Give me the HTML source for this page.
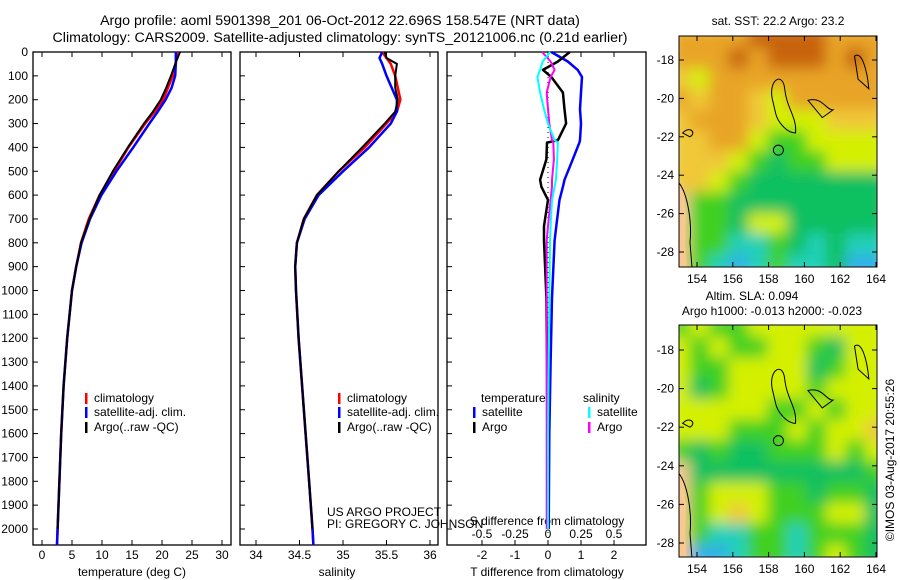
<!DOCTYPE html>
<html><head><meta charset="utf-8"><style>
html,body{margin:0;padding:0;background:#fff}
svg{display:block;font-family:"Liberation Sans",sans-serif}
text{font-size:12px;fill:#000}
.ttl{font-size:14.2px}
</style></head><body>
<svg id="c" width="900" height="580" viewBox="0 0 900 580" xmlns="http://www.w3.org/2000/svg">
<defs>
<filter id="bl" x="-5%" y="-5%" width="110%" height="110%"><feGaussianBlur stdDeviation="7"/></filter>
<clipPath id="m1c"><rect x="679" y="36" width="198" height="231"/></clipPath>
<clipPath id="m2c"><rect x="679" y="325" width="198" height="232"/></clipPath>
</defs>
<text class="ttl" x="340" y="25" text-anchor="middle">Argo profile: aoml 5901398_201 06-Oct-2012 22.696S 158.547E (NRT data)</text>
<text class="ttl" x="340" y="42" text-anchor="middle">Climatology: CARS2009. Satellite-adjusted climatology: synTS_20121006.nc (0.21d earlier)</text>
<g id="plots"></g>
<g id="maps"></g>
<text transform="translate(894,460) rotate(-90)" text-anchor="middle">©IMOS 03-Aug-2017 20:55:26</text>
</svg>
<script>
// ---- profile data ----
const depths = [0,25,50,100,150,200,250,300,400,500,600,700,800,900,1000,1200,1400,1600,1800,2000,2067];
const climT  = [22.5,22.4,22.3,21.8,21.0,20.2,18.8,17.2,14.4,12.0,9.6,7.8,6.5,5.7,5.0,4.2,3.6,3.2,2.9,2.6,2.5];
const satT   = [22.3,22.3,22.3,22.2,21.6,20.6,19.3,17.9,15.2,12.4,9.9,8.0,6.6,5.7,5.0,4.2,3.6,3.2,2.9,2.6,2.5];
const argoT  = [23.0,22.6,22.2,21.5,20.7,19.8,18.5,17.0,14.3,11.8,9.6,7.9,6.5,5.7,5.0,4.2,3.6,3.2,2.9,2.6,2.6];
const climS  = [35.45,35.50,35.55,35.60,35.63,35.66,35.62,35.50,35.25,34.95,34.70,34.55,34.47,34.45,34.46,34.49,34.53,34.57,34.61,34.65,34.66];
const satS   = [35.45,35.42,35.45,35.50,35.56,35.62,35.62,35.55,35.30,35.00,34.72,34.56,34.47,34.45,34.46,34.49,34.53,34.57,34.61,34.65,34.66];
const argoS  = [35.48,35.50,35.62,35.60,35.60,35.63,35.60,35.48,35.22,34.95,34.70,34.55,34.47,34.45,34.46,34.49,34.53,34.57,34.61,34.65,34.66];
const diffDepths = [0,40,75,105,170,240,300,370,380,450,536,565,620,730,790,1030,1300,1600,2000];
const satTd  = [0.1,0.6,0.9,1.03,1.0,0.97,1.0,0.97,0.95,0.75,0.5,0.45,0.35,0.25,0.2,0.12,0.08,0.04,0.02];
const argoTd = [0.66,0.3,-0.15,0.1,0.45,0.5,0.55,0.3,-0.03,-0.05,-0.24,-0.2,0.0,-0.12,-0.12,-0.05,-0.03,-0.02,-0.02];
const satSd  = [0.015,-0.04,-0.06,-0.08,-0.06,-0.03,0.0,0.05,0.075,0.07,0.06,0.05,0.03,0.02,0.015,0.01,0.005,0.0,0.0];
const argoSd = [-0.045,0.02,0.05,0.02,-0.01,0.0,0.01,0.03,0.04,0.045,0.03,0.03,0.02,0.0,-0.01,-0.01,-0.01,-0.01,-0.01];
const depthTicks = [0,100,200,300,400,500,600,700,800,900,1000,1100,1200,1300,1400,1500,1600,1700,1800,1900,2000];
const tTicks = [0,5,10,15,20,25,30];
const sTicks = [34,34.5,35,35.5,36];
const tdTicks = [-2,-1,0,1,2];
const sdTicks = [-0.5,-0.25,0,0.25,0.5];

const NS='http://www.w3.org/2000/svg';
const root=document.getElementById('plots');
function el(tag,attrs,parent){const e=document.createElementNS(NS,tag);for(const k in attrs)e.setAttribute(k,attrs[k]);(parent||root).appendChild(e);return e;}
const TOP=52,BOT=545;
const yD=d=>TOP+d*0.2385;

const panels=[
 {x0:33,x1:231,sx:v=>42+v*6.0,name:'temperature-panel'},
 {x0:240,x1:438,sx:v=>256+(v-34)*87,name:'salinity-panel'},
 {x0:447,x1:646,sx:v=>548+v*33,name:'difference-panel'}
];
panels.forEach(p=>{
 const r=el('rect',{x:p.x0,y:TOP,width:p.x1-p.x0,height:BOT-TOP,fill:'none',stroke:'#000','stroke-width':1.3});
 
 
});
depthTicks.forEach(d=>{
 const y=yD(d);
 panels.forEach(p=>{el('line',{x1:p.x0,x2:p.x0+5,y1:y,y2:y,stroke:'#000'});});
 const t=el('text',{x:28,y:y+4,'text-anchor':'end'});t.textContent=d;
 
 
});
function xticks(vals,sx,labels,yl,name){
 vals.forEach((v,i)=>{
  const x=sx(v);
  el('line',{x1:x,x2:x,y1:TOP,y2:TOP+5,stroke:'#000'});
  el('line',{x1:x,x2:x,y1:BOT,y2:BOT-5,stroke:'#000'});
  if(labels){const t=el('text',{x:x,y:yl,'text-anchor':'middle'});t.textContent=labels[i];
  
  }
 });
}
xticks(tTicks,panels[0].sx,tTicks,559,'temperature-tick-label');
xticks(sTicks,panels[1].sx,sTicks,559,'salinity-tick-label');
xticks(tdTicks,panels[2].sx,tdTicks,559,'t-diff-tick-label');
sdTicks.forEach(v=>{const t=el('text',{x:548+v*132,y:538,'text-anchor':'middle'});t.textContent=v;
 
 });
function lab(x,y,s,name,anchor){const t=el('text',{x:x,y:y,'text-anchor':anchor||'start'});t.textContent=s;
 
 return t;}
lab(132,576,'temperature (deg C)','temperature-axis-title','middle');
lab(337,576,'salinity','salinity-axis-title','middle');
lab(547,576,'T difference from climatology','t-diff-axis-title','middle');
lab(547,525,'S difference from climatology','s-diff-axis-title','middle');
lab(327,516,'US ARGO PROJECT','project-label');
lab(327,528,'PI: GREGORY C. JOHNSON','pi-label');

function line(xs,ds,sx,color,w,name){
 const pts=xs.map((v,i)=>sx(v).toFixed(1)+','+yD(ds[i]).toFixed(1)).join(' ');
 const l=el('polyline',{points:pts,fill:'none',stroke:color,'stroke-width':w,'stroke-linejoin':'round'});
 
 
}
const P=panels;
line(climT,depths,P[0].sx,'#f00',2.5,'climatology-temperature-line');
line(satT,depths,P[0].sx,'#00f',2.5,'satellite-temperature-line');
line(argoT.slice(0,20),depths.slice(0,20),P[0].sx,'#000',2,'argo-temperature-line');
line(climS,depths,P[1].sx,'#f00',2.5,'climatology-salinity-line');
line(satS,depths,P[1].sx,'#00f',2.5,'satellite-salinity-line');
line(argoS.slice(0,20),depths.slice(0,20),P[1].sx,'#000',2,'argo-salinity-line');
const sdx=v=>548+v*132;
el('line',{x1:548,x2:548,y1:TOP,y2:BOT,stroke:'#000','stroke-dasharray':'1,4'});
line(satTd,diffDepths,P[2].sx,'#00f',2.5,'satellite-t-diff-line');
line(argoTd,diffDepths,P[2].sx,'#000',2.5,'argo-t-diff-line');
line(argoSd,diffDepths,sdx,'#f0f',2,'argo-s-diff-line');
line(satSd,diffDepths,sdx,'#0ff',2,'satellite-s-diff-line');

function legend(x,y,color,text,name){
 const r=el('rect',{x:x,y:y-9,width:2.5,height:11,fill:color});
 
 
 lab(x+9,y,text,name);
}
[[85,'temperature'],[338,'salinity']].forEach(([x,n])=>{
 legend(x,402,'#f00','climatology',n+'-legend-climatology');
 legend(x,416,'#00f','satellite-adj. clim.',n+'-legend-satellite');
 legend(x,431,'#000','Argo(..raw -QC)',n+'-legend-argo');
});
lab(481,402,'temperature','diff-legend-temperature-header');
lab(583,402,'salinity','diff-legend-salinity-header');
legend(473,416,'#00f','satellite','diff-legend-t-satellite');
legend(473,431,'#000','Argo','diff-legend-t-argo');
legend(588,416,'#0ff','satellite','diff-legend-s-satellite');
legend(588,431,'#f0f','Argo','diff-legend-s-argo');

// ---- maps ----
const pal={O:'#c86410',o:'#e8a428',y:'#f0c838',Y:'#d4f000',g:'#40d020',G:'#10c060',c:'#20d0b8',b:'#30b0e8',s:'#f8c890'};
const sstGrid=["ooooOOOOooo","oooOoOOOoOo","yYooooooooo","oyooyYooooo","yoooyYYYyyy","yyooYggYYYY","yyyYgGggYYY","yyYgGGGGGGG","sggGGGGGGGG","sggGYYGGGGG","sggccgGcGcc","sgcbcgccGbb"];
const slaGrid=["gYggYYYYYYY","YgYggYYgGYY","YggYYYYGgYY","YGgYYYYgYYY","YYYYYggYgYY","YYYgggYgYYy","gGgGGgggYgY","sGGGGGGGGGg","sgYYYggGggG","sgYyYgggYYG","sgccggcgggG","sbbcggcgYgG"];
const mroot=document.getElementById('maps');
function drawMap(grid,x0,y0,h,clip,latY0,latY1,name){
 const g=el('g',{'clip-path':'url(#'+clip+')'},mroot);
 
 
 const inner=el('g',{filter:'url(#bl)'},g);
 const cw=198/11,ch=h/grid.length;
 grid.forEach((row,r)=>{row.split('').forEach((k,c)=>{
  el('rect',{x:x0-8+c*(cw+1.5)-1,y:y0-8+r*(ch+1.4)-1,width:cw+4,height:ch+4,fill:pal[k]||'#d4f000'},inner);});});
 const lx=v=>697+(v-154)*17.9, ly=v=>latY0-(v+18)*(latY1-latY0)/10;
 el('path',{d:`M679 ${ly(-24.4)} L683 ${ly(-24.6)} L686 ${ly(-26)} L685 ${ly(-27.5)} L687 ${ly(-29)} L679 ${ly(-29)} Z`,fill:'#f8c890'},g);
 const cs={fill:'none',stroke:'#000','stroke-width':1};
 el('path',Object.assign({d:`M679 ${ly(-24.4)} C688 ${ly(-25)} 692 ${ly(-26.5)} 690 ${ly(-27.5)} L692 ${ly(-28.8)}`},cs),g);
 el('path',Object.assign({d:`M${lx(158.2)} ${ly(-20)} C${lx(158)} ${ly(-19)} ${lx(158.8)} ${ly(-18.6)} ${lx(158.9)} ${ly(-19.5)} C${lx(159)} ${ly(-20.5)} ${lx(159.6)} ${ly(-21)} ${lx(159.5)} ${ly(-21.8)} C${lx(159)} ${ly(-21.8)} ${lx(158.5)} ${ly(-21.2)} ${lx(158.4)} ${ly(-20.8)} Z`},cs),g);
 el('path',Object.assign({d:`M${lx(160.2)} ${ly(-20.1)} C${lx(161)} ${ly(-19.9)} ${lx(161.2)} ${ly(-20.6)} ${lx(161.6)} ${ly(-20.6)} L${lx(161)} ${ly(-21)} Z`},cs),g);
 el('path',Object.assign({d:`M${lx(162.8)} ${ly(-17.8)} C${lx(163.2)} ${ly(-17.5)} ${lx(163.5)} ${ly(-18.5)} ${lx(163.6)} ${ly(-19.5)} L${lx(163)} ${ly(-19)} Z`},cs),g);
 el('path',Object.assign({d:`M${lx(153.2)} ${ly(-21.8)} C${lx(153.6)} ${ly(-21.4)} ${lx(154)} ${ly(-21.8)} ${lx(153.6)} ${ly(-22)} Z`},cs),g);
 const ci=el('circle',Object.assign({cx:lx(158.547),cy:ly(-22.696),r:5},cs),g);
 
 
 el('rect',{x:679,y:y0,width:198,height:h,fill:'none',stroke:'#000'},mroot);
 [154,156,158,160,162,164].forEach(v=>{
  const x=lx(v);el('line',{x1:x,x2:x,y1:y0,y2:y0+5,stroke:'#000'},mroot);el('line',{x1:x,x2:x,y1:y0+h,y2:y0+h-5,stroke:'#000'},mroot);
  const t=el('text',{x:x,y:y0+h+16,'text-anchor':'middle'},mroot);t.textContent=v;
  
  });
 [-18,-20,-22,-24,-26,-28].forEach(v=>{
  const y=ly(v);el('line',{x1:679,x2:684,y1:y,y2:y,stroke:'#000'},mroot);el('line',{x1:877,x2:872,y1:y,y2:y,stroke:'#000'},mroot);
  const t=el('text',{x:674,y:y+4,'text-anchor':'end'},mroot);t.textContent=v;
  
  });
}
drawMap(sstGrid,679,36,231,'m1c',60,252,'sst-map');
drawMap(slaGrid,679,325,232,'m2c',350,543,'sla-map');
function mt(x,y,s,n){const t=el('text',{x:x,y:y,'text-anchor':'middle'},mroot);t.textContent=s;
 
 }
mt(778,25,'sat. SST: 22.2 Argo: 23.2','sst-map-title');
mt(752,300,'Altim. SLA: 0.094','sla-map-title');
mt(772,315,'Argo h1000: -0.013 h2000: -0.023','argo-height-title');
</script>
</body></html>
